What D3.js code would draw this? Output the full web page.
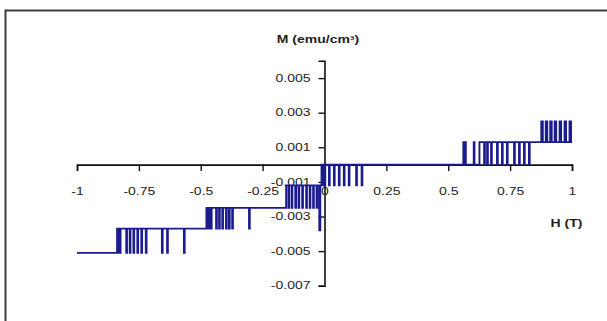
<!DOCTYPE html>
<html>
<head>
<meta charset="utf-8">
<script src="https://cdn.jsdelivr.net/npm/d3@7"></script>
<style>
  html, body { margin: 0; padding: 0; background: #fff; }
  svg { display: block; }
  text { font-family: "Liberation Sans", Arial, sans-serif; fill: #1e1e1e; }
</style>
</head>
<body>
<div id="chart"></div>
<script>
// field H (T) where each step starts, and M (emu/cm3) held until the next one
const fieldH = [
  -1, -0.838, -0.835, -0.831, -0.828, -0.824, -0.801, -0.798, -0.787, -0.784,
  -0.772, -0.769, -0.756, -0.753, -0.740, -0.737, -0.722, -0.719, -0.657, -0.654,
  -0.636, -0.633, -0.568, -0.565,
  -0.477, -0.474, -0.471, -0.467, -0.464, -0.459, -0.456, -0.438, -0.435, -0.426,
  -0.423, -0.413, -0.410, -0.398, -0.395, -0.386, -0.383, -0.373, -0.370, -0.305,
  -0.302,
  -0.155, -0.146, -0.143, -0.133, -0.130, -0.118, -0.115, -0.105, -0.102, -0.090,
  -0.087, -0.074, -0.071, -0.060, -0.057, -0.046, -0.043, -0.032, -0.029, -0.021,
  -0.017, -0.012, -0.008, -0.005, 0.000, 0.003, 0.018, 0.021, 0.038, 0.041,
  0.058, 0.061, 0.078, 0.081, 0.098, 0.101, 0.128, 0.131, 0.150, 0.153,
  0.561, 0.564, 0.568, 0.571, 0.603, 0.606, 0.626, 0.645, 0.648, 0.657,
  0.660, 0.673, 0.676, 0.697, 0.700, 0.717, 0.720, 0.737, 0.740, 0.766,
  0.769, 0.786, 0.789, 0.806, 0.809, 0.826, 0.829,
  0.876, 0.882, 0.894, 0.900, 0.912, 0.918, 0.930, 0.936, 0.950, 0.956,
  0.970, 0.976, 0.990, 0.996, 1.000
]
const moment = [
  -0.0051, -0.0037, -0.0051, -0.0037, -0.0051, -0.0037, -0.0051, -0.0037, -0.0051, -0.0037,
  -0.0051, -0.0037, -0.0051, -0.0037, -0.0051, -0.0037, -0.0051, -0.0037, -0.0051, -0.0037,
  -0.0051, -0.0037, -0.0051, -0.0037,
  -0.0025, -0.0037, -0.0025, -0.0037, -0.0025, -0.0037, -0.0025, -0.0037, -0.0025, -0.0037,
  -0.0025, -0.0037, -0.0025, -0.0037, -0.0025, -0.0037, -0.0025, -0.0037, -0.0025, -0.0037,
  -0.0025,
  -0.0012, -0.0025, -0.0012, -0.0025, -0.0012, -0.0025, -0.0012, -0.0025, -0.0012, -0.0025,
  -0.0012, -0.0025, -0.0012, -0.0025, -0.0012, -0.0025, -0.0012, -0.0025, -0.0012, -0.0038,
  -0.0012, 0, -0.0012, 0, -0.0012, 0, -0.0012, 0, -0.0012, 0,
  -0.0012, 0, -0.0012, 0, -0.0012, 0, -0.0012, 0, -0.0012, 0,
  0.0013, 0, 0.0013, 0, 0.0013, 0, 0.0013, 0, 0.0013, 0,
  0.0013, 0, 0.0013, 0, 0.0013, 0, 0.0013, 0, 0.0013, 0,
  0.0013, 0, 0.0013, 0, 0.0013, 0, 0.0013,
  0.0025, 0.0013, 0.0025, 0.0013, 0.0025, 0.0013, 0.0025, 0.0013, 0.0025, 0.0013,
  0.0025, 0.0013, 0.0025, 0.0013, 0.0013
]

const xTicks = [-1, -0.75, -0.5, -0.25, 0, 0.25, 0.5, 0.75, 1]
const xTickLabels = ["-1", "-0.75", "-0.5", "-0.25", "0", "0.25", "0.5", "0.75", "1"]
const yTicks = [-0.007, -0.005, -0.003, -0.001, 0.001, 0.003, 0.005]
const yTickLabels = ["-0.007", "-0.005", "-0.003", "-0.001", "0.001", "0.003", "0.005"]

const W = 607
const H = 321
const STRETCH = 1.4   // the source picture is widened, text included

const svg = d3.select("#chart").append("svg")
    .attr("width", W)
    .attr("height", H)

svg.append("rect")
    .attr("x", 5.5)
    .attr("y", 10.5)
    .attr("width", 700)
    .attr("height", 400)
    .attr("fill", "#fff")
    .attr("stroke", "#3c3c3c")
    .attr("stroke-width", 2)

const x = d3.scaleLinear().domain([-1, 1]).range([77, 572])
const y = d3.scaleLinear().domain([-0.007, 0.006]).range([285.7, 60.8])

// x axis through M = 0
const xAxis = svg.append("g")
    .attr("transform", `translate(0,${y(0)})`)
    .call(d3.axisBottom(x)
        .tickValues(xTicks)
        .tickFormat((d, i) => xTickLabels[i])
        .tickSizeOuter(0)
        .tickSize(6.5)
        .tickPadding(17))

xAxis.select(".domain").attr("stroke", "#111").attr("stroke-width", 1.6)
xAxis.selectAll(".tick line").attr("stroke", "#111").attr("stroke-width", 1.4)
xAxis.selectAll(".tick text")
    .attr("font-size", 10)
    .attr("font-family", "Liberation Sans, Arial, sans-serif")
    .attr("fill", "#1e1e1e")
    .attr("transform", `scale(${STRETCH},1)`)

// y axis through H = 0
const yAxis = svg.append("g")
    .attr("transform", `translate(${x(0)},0)`)
    .call(d3.axisLeft(y)
        .tickValues(yTicks)
        .tickFormat((d, i) => yTickLabels[i])
        .tickSizeOuter(0)
        .tickSize(6))

yAxis.select(".domain").attr("stroke", "#111").attr("stroke-width", 1.6)
yAxis.selectAll(".tick line").attr("stroke", "#111").attr("stroke-width", 1.4)
yAxis.selectAll(".tick text")
    .attr("font-size", 10)
    .attr("font-family", "Liberation Sans, Arial, sans-serif")
    .attr("fill", "#1e1e1e")
    .attr("x", -14 / STRETCH)
    .attr("transform", `scale(${STRETCH},1)`)

const points = fieldH.map((h, i) => [h, moment[i]])

const line = d3.line()
    .x(d => x(d[0]))
    .y(d => y(d[1]))
    .curve(d3.curveStepAfter)

svg.append("path")
    .datum(points)
    .attr("d", line)
    .attr("fill", "none")
    .attr("stroke", "#1b1b8e")
    .attr("stroke-width", 1.9)

svg.append("text")
    .attr("transform", `translate(318,43) scale(${STRETCH},1)`)
    .attr("text-anchor", "middle")
    .attr("font-size", 10)
    .attr("font-weight", "bold")
    .text("M (emu/cm³)")

svg.append("text")
    .attr("transform", `translate(566.5,227) scale(${STRETCH},1)`)
    .attr("text-anchor", "middle")
    .attr("font-size", 10)
    .attr("font-weight", "bold")
    .text("H (T)")
</script>
</body>
</html>
